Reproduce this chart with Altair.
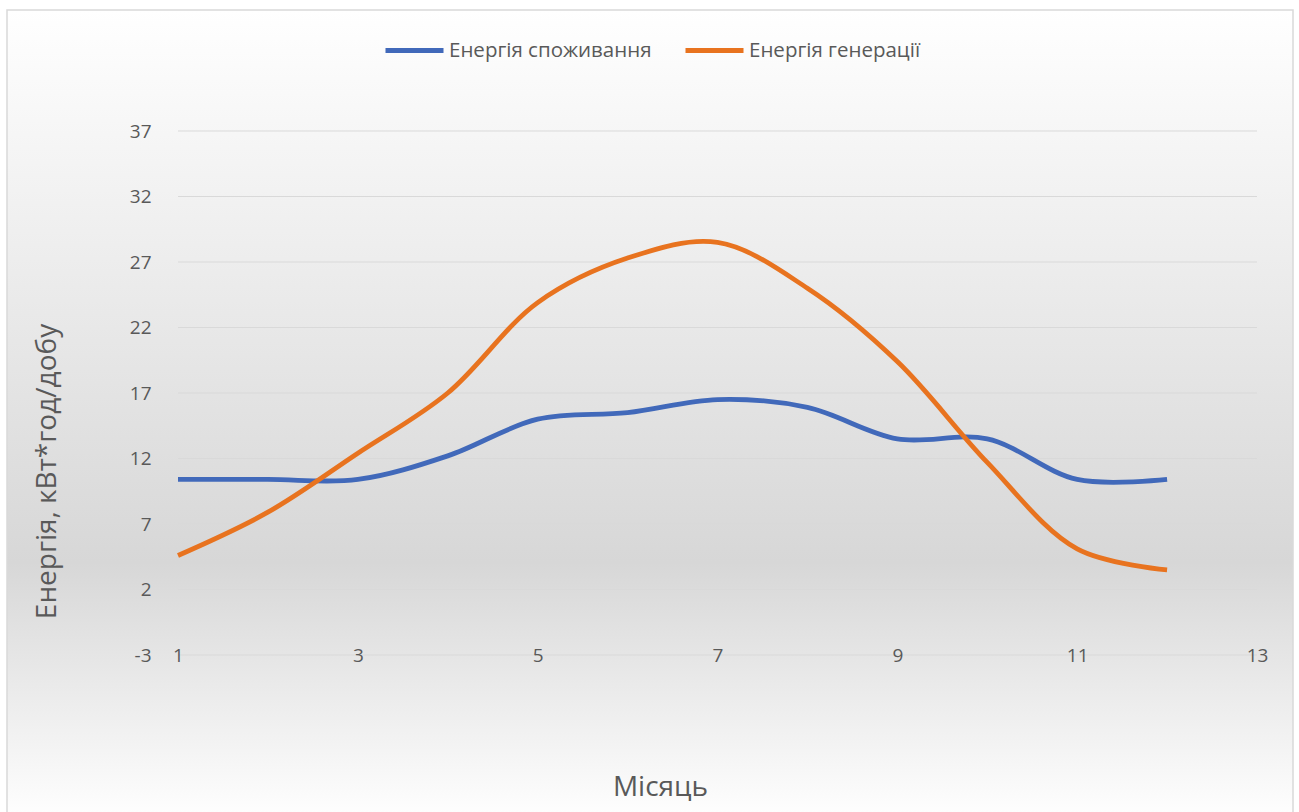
import altair as alt
import pandas as pd

# Monthly daily-average energy, kWh/day
months = list(range(1, 13))
consumption = [10.4, 10.4, 10.4, 12.2, 15.0, 15.5, 16.5, 15.9, 13.5, 13.5, 10.4, 10.4]
generation = [4.6, 7.9, 12.4, 17.0, 23.9, 27.3, 28.5, 25.0, 19.4, 11.7, 5.1, 3.5]

series_names = ["Енергія споживання", "Енергія генерації"]
series_colors = ["#4169BA", "#E8731F"]

y_ticks = [-3, 2, 7, 12, 17, 22, 27, 32, 37]
x_ticks = [1, 3, 5, 7, 9, 11, 13]

FONT = "Open Sans"
TEXT = "#595959"
GRID = "#d9d9d9"

# plot area size and the margins around it
W, H = 1079, 524
LEFT, TOP, RIGHT, BOTTOM = 178, 131, 42, 157

df = pd.DataFrame({
    "Місяць": months * 2,
    "Енергія": consumption + generation,
    "Серія": [series_names[0]] * len(months) + [series_names[1]] * len(months),
})

x_scale = alt.Scale(domain=[1, 13], nice=False, zero=False)
y_scale = alt.Scale(domain=[-3, 37], nice=False, zero=False)

x_axis = alt.Axis(
    values=x_ticks, grid=False, domain=False, ticks=False, tickSize=0,
    labelPadding=0, labelBaseline="middle", labelFlush=False, labelOverlap=False,
    labelFont=FONT, labelFontSize=19, labelColor=TEXT,
    title="Місяць", titleFont=FONT, titleFontSize=28, titleFontWeight="normal",
    titleColor=TEXT, titleX=482, titleY=132, titleBaseline="middle",
    zindex=1,
)
y_axis = alt.Axis(
    values=y_ticks, grid=False, domain=False, ticks=False, tickSize=0,
    labelExpr="'' + datum.value",
    labelPadding=27, labelFont=FONT, labelFontSize=19, labelColor=TEXT,
    title="Енергія, кВт*год/добу", titleFont=FONT, titleFontSize=28,
    titleFontWeight="normal", titleColor=TEXT, titleX=-131, titleY=340,
    titleBaseline="middle", zindex=1,
)

# chart-area backdrop: vertical light-grey gradient with a thin frame
backdrop = alt.Chart(pd.DataFrame({"k": [0]})).mark_rect(
    fill=alt.LinearGradient(
        gradient="linear", x1=0, y1=0, x2=0, y2=1,
        stops=[
            alt.GradientStop(offset=0, color="#ffffff"),
            alt.GradientStop(offset=0.68, color="#d7d7d7"),
            alt.GradientStop(offset=1, color="#ffffff"),
        ],
    ),
    stroke=GRID, strokeWidth=1.5,
).encode(
    x=alt.value(7 - LEFT), x2=alt.value(1293 - LEFT),
    y=alt.value(10 - TOP), y2=alt.value(822 - TOP),
)

# horizontal gridlines at the y tick values
grid = alt.Chart(pd.DataFrame({"Енергія": y_ticks})).mark_rule(
    color=GRID, strokeWidth=1
).encode(
    y=alt.Y("Енергія:Q", scale=y_scale, axis=y_axis),
    x=alt.value(0), x2=alt.value(W),
)

lines = alt.Chart(df).mark_line(
    interpolate="catmull-rom", strokeWidth=4.8
).encode(
    x=alt.X("Місяць:Q", scale=x_scale, axis=x_axis),
    y=alt.Y("Енергія:Q", scale=y_scale, axis=y_axis),
    color=alt.Color(
        "Серія:N",
        scale=alt.Scale(domain=series_names, range=series_colors),
        legend=alt.Legend(
            title=None, orient="none", legendX=205, legendY=-112,
            direction="horizontal", columns=2, padding=0,
            symbolType="stroke", symbolSize=3364, symbolStrokeWidth=5,
            labelFont=FONT, labelFontSize=20.5, labelColor=TEXT, labelLimit=0,
            labelOffset=3, columnPadding=23, zindex=1,
        ),
    ),
)

chart = alt.layer(backdrop, grid, lines).properties(
    width=W, height=H,
    padding={"left": LEFT, "top": TOP, "right": RIGHT, "bottom": BOTTOM},
    autosize=alt.AutoSizeParams(type="none"),
    background="white",
).configure_view(stroke=None)

chart.save("out.html", embed_options={"renderer": "svg", "actions": False})
